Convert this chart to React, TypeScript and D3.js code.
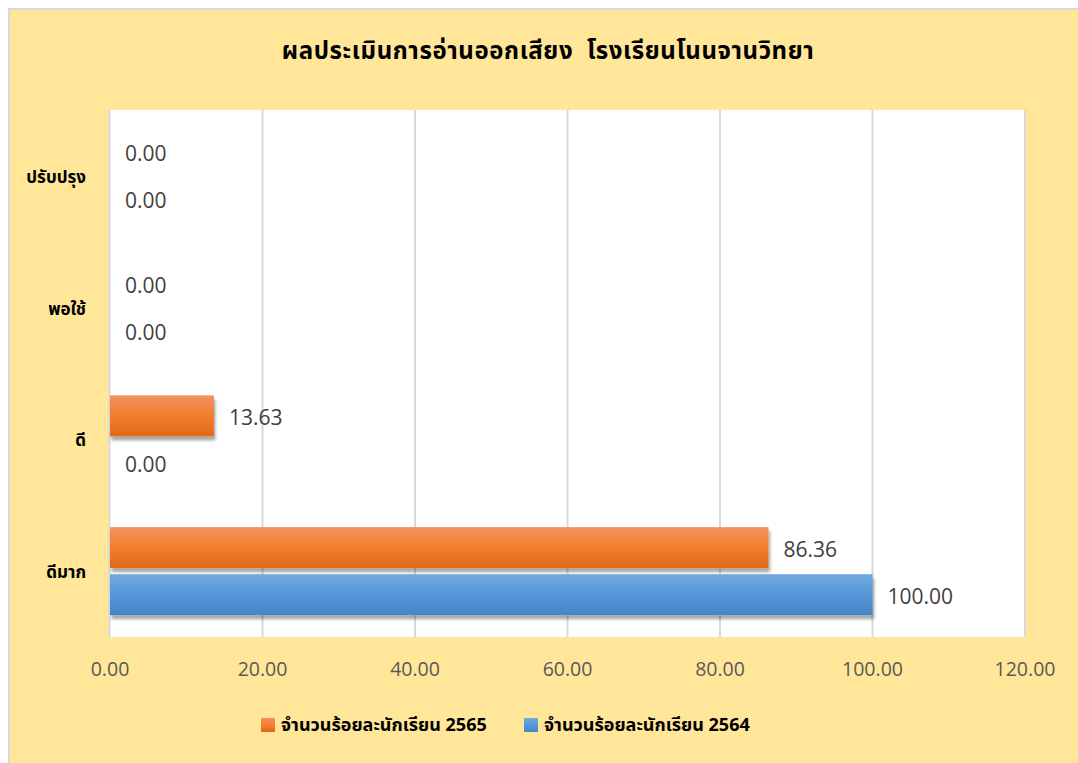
import React from "react";
import * as d3 from "d3";

const categories = ["ปรับปรุง", "พอใช้", "ดี", "ดีมาก"];
const seriesNames = ["จำนวนร้อยละนักเรียน 2565", "จำนวนร้อยละนักเรียน 2564"];
const values2565 = [0, 0, 13.63, 86.36];
const values2564 = [0, 0, 0, 100];
const xTicks = [0, 20, 40, 60, 80, 100, 120];
const title = "ผลประเมินการอ่านออกเสียง  โรงเรียนโนนจานวิทยา";

const W = 1078;
const H = 763;
const plot = { left: 110, right: 1025, top: 110, bottom: 637 };
const thaiFont = "'Leelawadee UI', Tahoma, 'Noto Sans Thai', 'Noto Sans', sans-serif";
const numFont = "'Open Sans', 'Segoe UI', 'Noto Sans', sans-serif";

export default function App() {
  const x = d3.scaleLinear().domain([0, 120]).range([plot.left, plot.right]);
  const y = d3
    .scaleBand<string>()
    .domain(categories)
    .range([plot.top, plot.bottom])
    .paddingInner(0.332)
    .paddingOuter(0.166);
  const ys = d3
    .scaleBand<string>()
    .domain(["2565", "2564"])
    .range([0, y.bandwidth()])
    .paddingInner(0.13)
    .paddingOuter(0);

  const series = [
    { key: "2565", name: seriesNames[0], values: values2565, grad: "gOrange" },
    { key: "2564", name: seriesNames[1], values: values2564, grad: "gBlue" },
  ];

  return (
    <svg
      width={W}
      height={H}
      style={{ position: "fixed", left: 0, top: 0, display: "block", background: "#FFFFFF" }}
    >
      <defs>
        <linearGradient id="gOrange" x1="0" y1="0" x2="0" y2="1">
          <stop offset="0" stopColor="#F29260" />
          <stop offset="0.5" stopColor="#F27E2E" />
          <stop offset="1" stopColor="#E0681B" />
        </linearGradient>
        <linearGradient id="gBlue" x1="0" y1="0" x2="0" y2="1">
          <stop offset="0" stopColor="#72A9DD" />
          <stop offset="0.5" stopColor="#5598DA" />
          <stop offset="1" stopColor="#4485C5" />
        </linearGradient>
        <filter id="shadow" x="-5%" y="-20%" width="115%" height="160%">
          <feDropShadow dx="1.5" dy="4" stdDeviation="1.5" floodColor="#000" floodOpacity="0.35" />
        </filter>
      </defs>
      <rect x={9} y={9} width={W + 10} height={H + 10} fill="#FFE699" stroke="#D9D9D9" strokeWidth={2} />
      <text
        x={548}
        y={52}
        textAnchor="middle"
        dominantBaseline="central"
        fontFamily={thaiFont}
        fontWeight="bold"
        fontSize={24}
        letterSpacing={0.6}
        fill="#000"
        style={{ whiteSpace: "pre" }}
      >
        {title}
      </text>
      <rect
        x={plot.left}
        y={plot.top}
        width={plot.right - plot.left}
        height={plot.bottom - plot.top}
        fill="#FFFFFF"
      />
      <line x1={plot.left - 0.5} x2={plot.left - 0.5} y1={plot.top} y2={plot.bottom} stroke="#D9D9D9" strokeWidth={2} />
      {xTicks.slice(1).map((t) => (
        <line key={t} x1={x(t)} x2={x(t)} y1={plot.top} y2={plot.bottom} stroke="#D9D9D9" strokeWidth={2} />
      ))}
      {xTicks.map((t) => (
        <text
          key={t}
          x={x(t)}
          y={668}
          textAnchor="middle"
          dominantBaseline="central"
          fontFamily={numFont}
          fontSize={19.5}
          fill="#595959"
        >
          {d3.format(".2f")(t)}
        </text>
      ))}
      {categories.map((c) => (
        <text
          key={c}
          x={86}
          y={(y(c) ?? 0) + y.bandwidth() / 2 + 2}
          textAnchor="end"
          dominantBaseline="central"
          fontFamily={thaiFont}
          fontWeight="bold"
          fontSize={17}
          fill="#000"
        >
          {c}
        </text>
      ))}
      {series.map((s) =>
        categories.map((c, i) => {
          const v = s.values[i];
          const by = (y(c) ?? 0) + (ys(s.key) ?? 0);
          const bh = ys.bandwidth();
          const w = x(v) - x(0);
          return (
            <g key={s.key + c}>
              {v > 0 && (
                <rect x={x(0)} y={by} width={w} height={bh} fill={`url(#${s.grad})`} filter="url(#shadow)" />
              )}
              <text
                x={x(v) + 15}
                y={by + bh / 2 + 1}
                dominantBaseline="central"
                fontFamily={numFont}
                fontSize={21}
                fill="#404040"
              >
                {d3.format(".2f")(v)}
              </text>
            </g>
          );
        })
      )}
      {series.map((s, i) => {
        const lx = i === 0 ? 261 : 524;
        return (
          <g key={s.key}>
            <rect x={lx} y={718} width={14} height={14} fill={`url(#${s.grad})`} />
            <text
              x={lx + 20}
              y={725}
              dominantBaseline="central"
              fontFamily={thaiFont}
              fontWeight="bold"
              fontSize={18}
              fill="#000"
            >
              {s.name}
            </text>
          </g>
        );
      })}
    </svg>
  );
}
